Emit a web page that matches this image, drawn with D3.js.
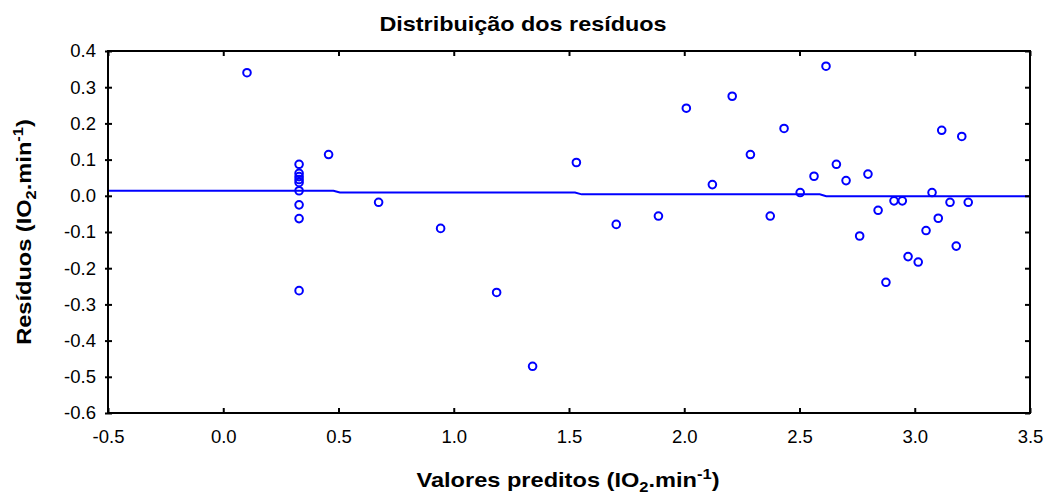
<!DOCTYPE html>
<html><head><meta charset="utf-8">
<script src="https://cdn.jsdelivr.net/npm/d3@7"></script>
<style>
body{margin:0;background:#fff}
svg{display:block}
text{font-family:"Liberation Sans",Arial,sans-serif;fill:#000}
</style>
</head><body>
<svg id="c" width="1046" height="495"></svg>
<script>
// ---- data ----
const predicted = [0.103, 0.329, 0.329, 0.329, 0.329, 0.329, 0.329, 0.329, 0.329, 0.329,
  0.457, 0.674, 0.943, 1.186, 1.342, 1.532, 1.705, 1.888, 2.009, 2.122,
  2.208, 2.287, 2.373, 2.433, 2.503, 2.563, 2.615, 2.660, 2.702, 2.761,
  2.797, 2.841, 2.875, 2.910, 2.946, 2.971, 3.015, 3.049, 3.075, 3.102,
  3.117, 3.153, 3.180, 3.204, 3.232];
const residuals = [0.340, 0.087, 0.062, 0.053, 0.045, 0.037, 0.014, -0.025, -0.063, -0.262,
  0.114, -0.018, -0.090, -0.267, -0.471, 0.092, -0.079, -0.056, 0.242, 0.031,
  0.275, 0.114, -0.056, 0.186, 0.009, 0.054, 0.358, 0.087, 0.042, -0.111,
  0.060, -0.040, -0.239, -0.014, -0.014, -0.168, -0.183, -0.096, 0.009, -0.062,
  0.181, -0.018, -0.139, 0.164, -0.018];
const fitX = [-0.5, 0.478, 0.506, 1.526, 1.555, 2.588, 2.616, 3.5];
const fitY = [0.014, 0.014, 0.009, 0.009, 0.004, 0.004, -0.001, -0.001];
const xTicks = [-0.5, 0.0, 0.5, 1.0, 1.5, 2.0, 2.5, 3.0, 3.5];
const yTicks = [-0.6, -0.5, -0.4, -0.3, -0.2, -0.1, 0.0, 0.1, 0.2, 0.3, 0.4];
const titleText = "Distribuição dos resíduos";

// ---- layout ----
const L = 108, R = 1030, T = 51, B = 413;
const svg = d3.select("#c");
const x = d3.scaleLinear().domain([-0.5, 3.5]).range([L, R]);
const y = d3.scaleLinear().domain([-0.6, 0.4]).range([B, T]);
const fmt = d => d.toFixed(1);
const blue = "#0000ff";
const FONT = '"Liberation Sans",Arial,sans-serif';

// fitted line
const line = d3.line().x(d => x(d[0])).y(d => y(d[1]));
svg.append("path").datum(fitX.map((v, i) => [v, fitY[i]]))
  .attr("d", line).attr("fill", "none").attr("stroke", blue).attr("stroke-width", 2);

// points
svg.append("g").selectAll("circle").data(predicted.map((v, i) => [v, residuals[i]]))
  .join("circle")
  .attr("cx", d => x(d[0])).attr("cy", d => y(d[1])).attr("r", 3.8)
  .attr("fill", "none").attr("stroke", blue).attr("stroke-width", 2);

// frame
svg.append("rect").attr("x", L).attr("y", T).attr("width", R - L).attr("height", B - T)
  .attr("fill", "none").attr("stroke", "#000").attr("stroke-width", 2);

function styleAxis(g, labels) {
  g.select(".domain").remove();
  g.selectAll(".tick line").attr("stroke", "#000").attr("stroke-width", 2);
  if (!labels) g.selectAll(".tick text").remove();
  else g.selectAll(".tick text").attr("font-size", 18.5).attr("font-family", FONT).attr("fill", "#000");
}

// left axis (labels + outward ticks)
styleAxis(svg.append("g").attr("transform", `translate(${L},0)`)
  .call(d3.axisLeft(y).tickValues(yTicks).tickFormat(fmt).tickSize(3).tickPadding(9)), true);
styleAxis(svg.append("g").attr("transform", `translate(${L},0)`)
  .call(d3.axisRight(y).tickValues(yTicks).tickSize(4)), false);
styleAxis(svg.append("g").attr("transform", `translate(${R},0)`)
  .call(d3.axisLeft(y).tickValues(yTicks).tickSize(5)), false);
styleAxis(svg.append("g").attr("transform", `translate(0,${T})`)
  .call(d3.axisBottom(x).tickValues(xTicks).tickSize(5)), false);
styleAxis(svg.append("g").attr("transform", `translate(0,${B})`)
  .call(d3.axisTop(x).tickValues(xTicks).tickSize(5)), false);
styleAxis(svg.append("g").attr("transform", `translate(0,${B})`)
  .call(d3.axisBottom(x).tickValues(xTicks).tickFormat(fmt).tickSize(0).tickPadding(17)), true);

// title
svg.append("text").attr("transform", "translate(523,31) scale(1.17,1)")
  .attr("text-anchor", "middle").attr("font-size", 20).attr("font-weight", "bold")
  .text(titleText);

// axis label helper
function unitLabel(t, main) {
  t.append("tspan").text(main + " (IO");
  t.append("tspan").attr("font-size", "70%").attr("dy", 5).text("2");
  t.append("tspan").attr("dy", -5).text(".min");
  t.append("tspan").attr("font-size", "70%").attr("dy", -8).text("-1");
  t.append("tspan").attr("dy", 8).text(")");
}
const xl = svg.append("text").attr("transform", "translate(568,487) scale(1.18,1)")
  .attr("text-anchor", "middle").attr("font-size", 20).attr("font-weight", "bold");
unitLabel(xl, "Valores preditos");
const yl = svg.append("text").attr("transform", "translate(31,232) rotate(-90) scale(1.18,1)")
  .attr("text-anchor", "middle").attr("font-size", 20).attr("font-weight", "bold");
unitLabel(yl, "Resíduos");
</script>
</body></html>
